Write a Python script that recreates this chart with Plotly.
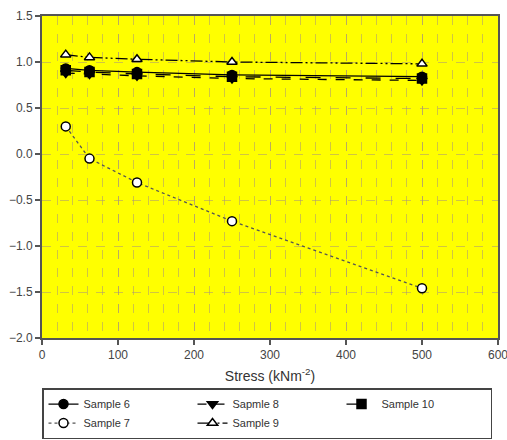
import plotly.graph_objects as go

stress = [31.25, 62.5, 125, 250, 500]
sample6 = [0.93, 0.91, 0.89, 0.86, 0.84]
sample7 = [0.30, -0.05, -0.31, -0.73, -1.46]
sample8 = [0.88, 0.87, 0.85, 0.82, 0.80]
sample9 = [1.08, 1.05, 1.03, 1.00, 0.98]
sample10 = [0.91, 0.89, 0.87, 0.84, 0.82]

names = ["Sample 6", "Sapmle 8", "Sample 10", "Sample 7", "Sample 9"]
series = [sample6, sample8, sample10, sample7, sample9]
dashes = ["solid", "dash", "longdash", "dot", "12px,3px,2px,3px,2px,3px"]
symbols = ["circle", "triangle-down", "square", "circle", "triangle-up"]
fills = ["black", "black", "black", "white", "white"]

fig = go.Figure()
for nm, ys, d, s, f in zip(names, series, dashes, symbols, fills):
    fig.add_trace(go.Scatter(
        x=stress, y=ys, name=nm, mode="lines+markers",
        line=dict(color="black" if nm != "Sample 7" else "#555", width=1.3, dash=d),
        marker=dict(symbol=s, size=9, color=f, line=dict(color="black", width=1.5)),
    ))

gridc = "rgba(170,150,120,0.55)"
axis_common = dict(
    showline=True, linecolor="#555", linewidth=2, mirror=True,
    ticks="outside", ticklen=5, tickcolor="#555", tickwidth=1.5,
    tickfont=dict(family="Liberation Sans, Arial", size=12, color="#444"),
    gridcolor=gridc, griddash="dash", gridwidth=1,
    zeroline=False, ticklabeloverflow="allow",
)

fig.update_xaxes(range=[0, 600], tickvals=[0, 100, 200, 300, 400, 500, 600],
                 **axis_common,
                 title=dict(text="Stress (kNm<sup>-2</sup>)",
                            font=dict(family="Liberation Sans, Arial", size=14, color="#333"),
                            standoff=10),
                 minor=dict(dtick=20, showgrid=True, gridcolor=gridc,
                            griddash="dash", ticks=""))
fig.update_yaxes(range=[-2.0, 1.5], dtick=0.5, tickformat=".1f", **axis_common)

fig.update_layout(
    width=507, height=440,
    margin=dict(l=42, r=9, t=16, b=102, autoexpand=False),
    plot_bgcolor="#FFFF00", paper_bgcolor="white",
    showlegend=True,
    legend=dict(
        orientation="h", x=0.0, xanchor="left",
        yref="container", y=0.118, yanchor="top",
        traceorder="normal", entrywidth=104, entrywidthmode="pixels",
        bordercolor="#444", borderwidth=1.5, bgcolor="white",
        font=dict(family="Liberation Sans, Arial", size=11, color="#333"),
        tracegroupgap=0,
    ),
)

fig.write_html("out.html")
